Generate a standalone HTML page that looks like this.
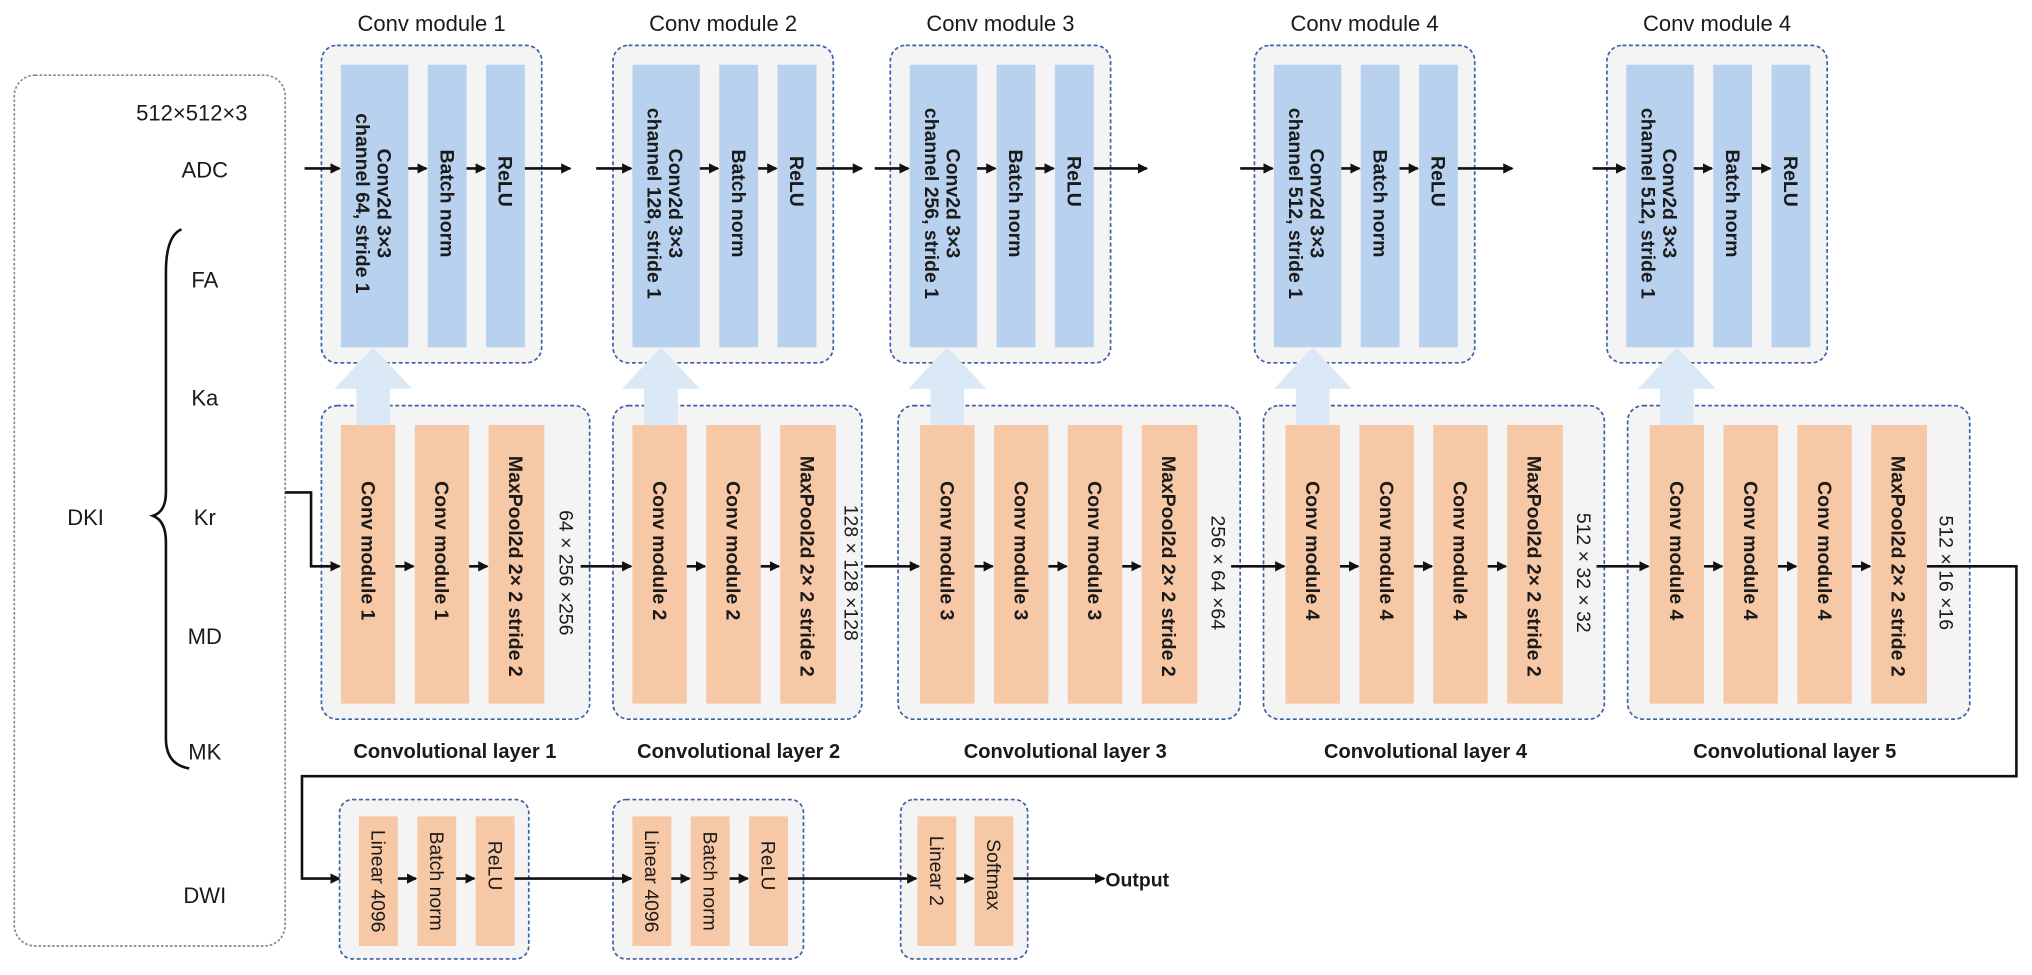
<!DOCTYPE html>
<html><head><meta charset="utf-8"><style>
html,body{margin:0;padding:0;background:#fff;}
svg{display:block;}
text{font-family:"Liberation Sans",sans-serif;fill:#1a1a1a;}
.b{font-weight:bold;font-size:15px;}
.r{font-size:15px;}
.t{font-size:17px;}
.bar1{fill:#b7d1ee;}
.bar2{fill:#f6c8a5;}
.box{fill:#f4f4f5;stroke:#3d5ea8;stroke-width:1.3;stroke-dasharray:3,2;}
.ln{stroke:#111;stroke-width:2;fill:none;}
.up{fill:#dbe8f6;}
</style></head><body>
<svg width="2032" height="975" viewBox="0 0 1568 752.4" xmlns="http://www.w3.org/2000/svg">
<defs>
<marker id="a" markerWidth="8" markerHeight="8" refX="7" refY="4" orient="auto" markerUnits="userSpaceOnUse"><path d="M0,0 L8,4 L0,8 z" fill="#111"/></marker>
</defs>

<rect x="11" y="58" width="209" height="672" rx="16" fill="#fff" stroke="#888" stroke-width="1.3" stroke-dasharray="2,1.5"/>
<text class="t" x="148" y="93" text-anchor="middle">512×512×3</text>
<text class="t" x="158" y="137" text-anchor="middle">ADC</text>
<text class="t" x="158" y="222" text-anchor="middle">FA</text>
<text class="t" x="158" y="313" text-anchor="middle">Ka</text>
<text class="t" x="158" y="405" text-anchor="middle">Kr</text>
<text class="t" x="158" y="497" text-anchor="middle">MD</text>
<text class="t" x="158" y="586" text-anchor="middle">MK</text>
<text class="t" x="158" y="697" text-anchor="middle">DWI</text>
<text class="t" x="66" y="405" text-anchor="middle">DKI</text>
<path class="ln" d="M140,177 Q128,182 128,210 L128,380 Q128,395 118,398 Q128,402 128,418 L128,570 Q128,590 146,593"/>

<g>
<rect class="box" x="248" y="35" width="170" height="245" rx="12"/>
<rect class="bar1" x="263" y="50" width="52" height="218"/><rect class="bar1" x="330" y="50" width="30" height="218"/><rect class="bar1" x="375" y="50" width="30" height="218"/>
<rect class="box" x="473" y="35" width="170" height="245" rx="12"/>
<rect class="bar1" x="488" y="50" width="52" height="218"/><rect class="bar1" x="555" y="50" width="30" height="218"/><rect class="bar1" x="600" y="50" width="30" height="218"/>
<rect class="box" x="687" y="35" width="170" height="245" rx="12"/>
<rect class="bar1" x="702" y="50" width="52" height="218"/><rect class="bar1" x="769" y="50" width="30" height="218"/><rect class="bar1" x="814" y="50" width="30" height="218"/>
<rect class="box" x="968" y="35" width="170" height="245" rx="12"/>
<rect class="bar1" x="983" y="50" width="52" height="218"/><rect class="bar1" x="1050" y="50" width="30" height="218"/><rect class="bar1" x="1095" y="50" width="30" height="218"/>
<rect class="box" x="1240" y="35" width="170" height="245" rx="12"/>
<rect class="bar1" x="1255" y="50" width="52" height="218"/><rect class="bar1" x="1322" y="50" width="30" height="218"/><rect class="bar1" x="1367" y="50" width="30" height="218"/>
</g>
<text class="t" x="333" y="24" text-anchor="middle">Conv module 1</text>
<text class="t" x="558" y="24" text-anchor="middle">Conv module 2</text>
<text class="t" x="772" y="24" text-anchor="middle">Conv module 3</text>
<text class="t" x="1053" y="24" text-anchor="middle">Conv module 4</text>
<text class="t" x="1325" y="24" text-anchor="middle">Conv module 4</text>

<g class="b" text-anchor="middle">
<text transform="translate(289,157) rotate(90)" dy="-0.15em">Conv2d 3×3</text>
<text transform="translate(289,157) rotate(90)" dy="0.95em">channel 64, stride 1</text>
<text transform="translate(345,157) rotate(90)" dy="0.35em">Batch norm</text>
<text transform="translate(390,140) rotate(90)" dy="0.35em">ReLU</text>
<text transform="translate(514,157) rotate(90)" dy="-0.15em">Conv2d 3×3</text>
<text transform="translate(514,157) rotate(90)" dy="0.95em">channel 128, stride 1</text>
<text transform="translate(570,157) rotate(90)" dy="0.35em">Batch norm</text>
<text transform="translate(615,140) rotate(90)" dy="0.35em">ReLU</text>
<text transform="translate(728,157) rotate(90)" dy="-0.15em">Conv2d 3×3</text>
<text transform="translate(728,157) rotate(90)" dy="0.95em">channel 256, stride 1</text>
<text transform="translate(784,157) rotate(90)" dy="0.35em">Batch norm</text>
<text transform="translate(829,140) rotate(90)" dy="0.35em">ReLU</text>
<text transform="translate(1009,157) rotate(90)" dy="-0.15em">Conv2d 3×3</text>
<text transform="translate(1009,157) rotate(90)" dy="0.95em">channel 512, stride 1</text>
<text transform="translate(1065,157) rotate(90)" dy="0.35em">Batch norm</text>
<text transform="translate(1110,140) rotate(90)" dy="0.35em">ReLU</text>
<text transform="translate(1281,157) rotate(90)" dy="-0.15em">Conv2d 3×3</text>
<text transform="translate(1281,157) rotate(90)" dy="0.95em">channel 512, stride 1</text>
<text transform="translate(1337,157) rotate(90)" dy="0.35em">Batch norm</text>
<text transform="translate(1382,140) rotate(90)" dy="0.35em">ReLU</text>
</g>

<g class="ln" marker-end="url(#a)">
<line x1="235" y1="130" x2="262" y2="130"/><line x1="315" y1="130" x2="329" y2="130"/><line x1="360" y1="130" x2="374" y2="130"/><line x1="405" y1="130" x2="440" y2="130"/>
<line x1="460" y1="130" x2="487" y2="130"/><line x1="540" y1="130" x2="554" y2="130"/><line x1="585" y1="130" x2="599" y2="130"/><line x1="630" y1="130" x2="665" y2="130"/>
<line x1="675" y1="130" x2="701" y2="130"/><line x1="754" y1="130" x2="768" y2="130"/><line x1="799" y1="130" x2="813" y2="130"/><line x1="844" y1="130" x2="885" y2="130"/>
<line x1="957" y1="130" x2="982" y2="130"/><line x1="1035" y1="130" x2="1049" y2="130"/><line x1="1080" y1="130" x2="1094" y2="130"/><line x1="1125" y1="130" x2="1167" y2="130"/>
<line x1="1229" y1="130" x2="1254" y2="130"/><line x1="1307" y1="130" x2="1321" y2="130"/><line x1="1352" y1="130" x2="1366" y2="130"/>
</g>

<rect class="box" x="248" y="313" width="207" height="242" rx="12"/>
<rect class="box" x="473" y="313" width="192" height="242" rx="12"/>
<rect class="box" x="693" y="313" width="264" height="242" rx="12"/>
<rect class="box" x="975" y="313" width="263" height="242" rx="12"/>
<rect class="box" x="1256" y="313" width="264" height="242" rx="12"/>

<g class="up">
<path d="M275,330 L275,300 L258,300 L288,268 L318,300 L301,300 L301,330z"/>
<path d="M497,330 L497,300 L480,300 L510,268 L540,300 L523,300 L523,330z"/>
<path d="M718,330 L718,300 L701,300 L731,268 L761,300 L744,300 L744,330z"/>
<path d="M1000,330 L1000,300 L983,300 L1013,268 L1043,300 L1026,300 L1026,330z"/>
<path d="M1281,330 L1281,300 L1264,300 L1294,268 L1324,300 L1307,300 L1307,330z"/>
</g>

<g>
<rect class="bar2" x="263" y="328" width="42" height="215"/><rect class="bar2" x="320" y="328" width="42" height="215"/><rect class="bar2" x="377" y="328" width="43" height="215"/>
<rect class="bar2" x="488" y="328" width="42" height="215"/><rect class="bar2" x="545" y="328" width="42" height="215"/><rect class="bar2" x="602" y="328" width="43" height="215"/>
<rect class="bar2" x="710" y="328" width="42" height="215"/><rect class="bar2" x="767" y="328" width="42" height="215"/><rect class="bar2" x="824" y="328" width="42" height="215"/><rect class="bar2" x="881" y="328" width="43" height="215"/>
<rect class="bar2" x="992" y="328" width="42" height="215"/><rect class="bar2" x="1049" y="328" width="42" height="215"/><rect class="bar2" x="1106" y="328" width="42" height="215"/><rect class="bar2" x="1163" y="328" width="43" height="215"/>
<rect class="bar2" x="1273" y="328" width="42" height="215"/><rect class="bar2" x="1330" y="328" width="42" height="215"/><rect class="bar2" x="1387" y="328" width="42" height="215"/><rect class="bar2" x="1444" y="328" width="43" height="215"/>
</g>
<g class="b" text-anchor="middle">
<text transform="translate(284,425) rotate(90)" dy="0.35em">Conv module 1</text>
<text transform="translate(341,425) rotate(90)" dy="0.35em">Conv module 1</text>
<text transform="translate(398,437) rotate(90)" dy="0.35em">MaxPool2d 2× 2 stride 2</text>
<text transform="translate(509,425) rotate(90)" dy="0.35em">Conv module 2</text>
<text transform="translate(566,425) rotate(90)" dy="0.35em">Conv module 2</text>
<text transform="translate(623,437) rotate(90)" dy="0.35em">MaxPool2d 2× 2 stride 2</text>
<text transform="translate(731,425) rotate(90)" dy="0.35em">Conv module 3</text>
<text transform="translate(788,425) rotate(90)" dy="0.35em">Conv module 3</text>
<text transform="translate(845,425) rotate(90)" dy="0.35em">Conv module 3</text>
<text transform="translate(902,437) rotate(90)" dy="0.35em">MaxPool2d 2× 2 stride 2</text>
<text transform="translate(1013,425) rotate(90)" dy="0.35em">Conv module 4</text>
<text transform="translate(1070,425) rotate(90)" dy="0.35em">Conv module 4</text>
<text transform="translate(1127,425) rotate(90)" dy="0.35em">Conv module 4</text>
<text transform="translate(1184,437) rotate(90)" dy="0.35em">MaxPool2d 2× 2 stride 2</text>
<text transform="translate(1294,425) rotate(90)" dy="0.35em">Conv module 4</text>
<text transform="translate(1351,425) rotate(90)" dy="0.35em">Conv module 4</text>
<text transform="translate(1408,425) rotate(90)" dy="0.35em">Conv module 4</text>
<text transform="translate(1465,437) rotate(90)" dy="0.35em">MaxPool2d 2× 2 stride 2</text>
</g>
<g class="r" text-anchor="middle">
<text transform="translate(437,442) rotate(90)" dy="0.35em">64 × 256 ×256</text>
<text transform="translate(657,442) rotate(90)" dy="0.35em">128 × 128 ×128</text>
<text transform="translate(940,442) rotate(90)" dy="0.35em">256 × 64 ×64</text>
<text transform="translate(1222,442) rotate(90)" dy="0.35em">512 × 32 × 32</text>
<text transform="translate(1502,442) rotate(90)" dy="0.35em">512 × 16 ×16</text>
</g>
<g class="b" text-anchor="middle" style="font-size:15.5px">
<text x="351" y="585">Convolutional layer 1</text>
<text x="570" y="585">Convolutional layer 2</text>
<text x="822" y="585">Convolutional layer 3</text>
<text x="1100" y="585">Convolutional layer 4</text>
<text x="1385" y="585">Convolutional layer 5</text>
</g>

<path class="ln" d="M220,380 L240,380 L240,437 L262,437" marker-end="url(#a)"/>
<g class="ln" marker-end="url(#a)">
<line x1="305" y1="437" x2="319" y2="437"/><line x1="362" y1="437" x2="376" y2="437"/><line x1="448" y1="437" x2="487" y2="437"/>
<line x1="530" y1="437" x2="544" y2="437"/><line x1="587" y1="437" x2="601" y2="437"/><line x1="667" y1="437" x2="709" y2="437"/>
<line x1="752" y1="437" x2="766" y2="437"/><line x1="809" y1="437" x2="823" y2="437"/><line x1="866" y1="437" x2="880" y2="437"/><line x1="950" y1="437" x2="991" y2="437"/>
<line x1="1034" y1="437" x2="1048" y2="437"/><line x1="1091" y1="437" x2="1105" y2="437"/><line x1="1148" y1="437" x2="1162" y2="437"/><line x1="1232" y1="437" x2="1272" y2="437"/>
<line x1="1315" y1="437" x2="1329" y2="437"/><line x1="1372" y1="437" x2="1386" y2="437"/><line x1="1429" y1="437" x2="1443" y2="437"/>
</g>
<path class="ln" d="M1487,437 L1556,437 L1556,599 L233,599 L233,678 L262,678" marker-end="url(#a)"/>

<rect class="box" x="262" y="617" width="146" height="123" rx="10"/>
<rect class="box" x="473" y="617" width="147" height="123" rx="10"/>
<rect class="box" x="695" y="617" width="98" height="123" rx="10"/>
<rect class="bar2" x="277" y="630" width="30" height="100"/><rect class="bar2" x="322" y="630" width="30" height="100"/><rect class="bar2" x="367" y="630" width="30" height="100"/>
<rect class="bar2" x="488" y="630" width="30" height="100"/><rect class="bar2" x="533" y="630" width="30" height="100"/><rect class="bar2" x="578" y="630" width="30" height="100"/>
<rect class="bar2" x="708" y="630" width="30" height="100"/><rect class="bar2" x="752" y="630" width="30" height="100"/>
<g class="r" text-anchor="middle">
<text transform="translate(292,680) rotate(90)" dy="0.35em">Linear 4096</text>
<text transform="translate(337,680) rotate(90)" dy="0.35em">Batch norm</text>
<text transform="translate(382,668) rotate(90)" dy="0.35em">ReLU</text>
<text transform="translate(503,680) rotate(90)" dy="0.35em">Linear 4096</text>
<text transform="translate(548,680) rotate(90)" dy="0.35em">Batch norm</text>
<text transform="translate(593,668) rotate(90)" dy="0.35em">ReLU</text>
<text transform="translate(723,672) rotate(90)" dy="0.35em">Linear 2</text>
<text transform="translate(767,675) rotate(90)" dy="0.35em">Softmax</text>
</g>
<g class="ln" marker-end="url(#a)">
<line x1="307" y1="678" x2="321" y2="678"/><line x1="352" y1="678" x2="366" y2="678"/><line x1="397" y1="678" x2="487" y2="678"/>
<line x1="518" y1="678" x2="532" y2="678"/><line x1="563" y1="678" x2="577" y2="678"/><line x1="608" y1="678" x2="707" y2="678"/>
<line x1="738" y1="678" x2="751" y2="678"/><line x1="782" y1="678" x2="852" y2="678"/>
</g>
<text class="b" x="853" y="684">Output</text>
</svg>
</body></html>
